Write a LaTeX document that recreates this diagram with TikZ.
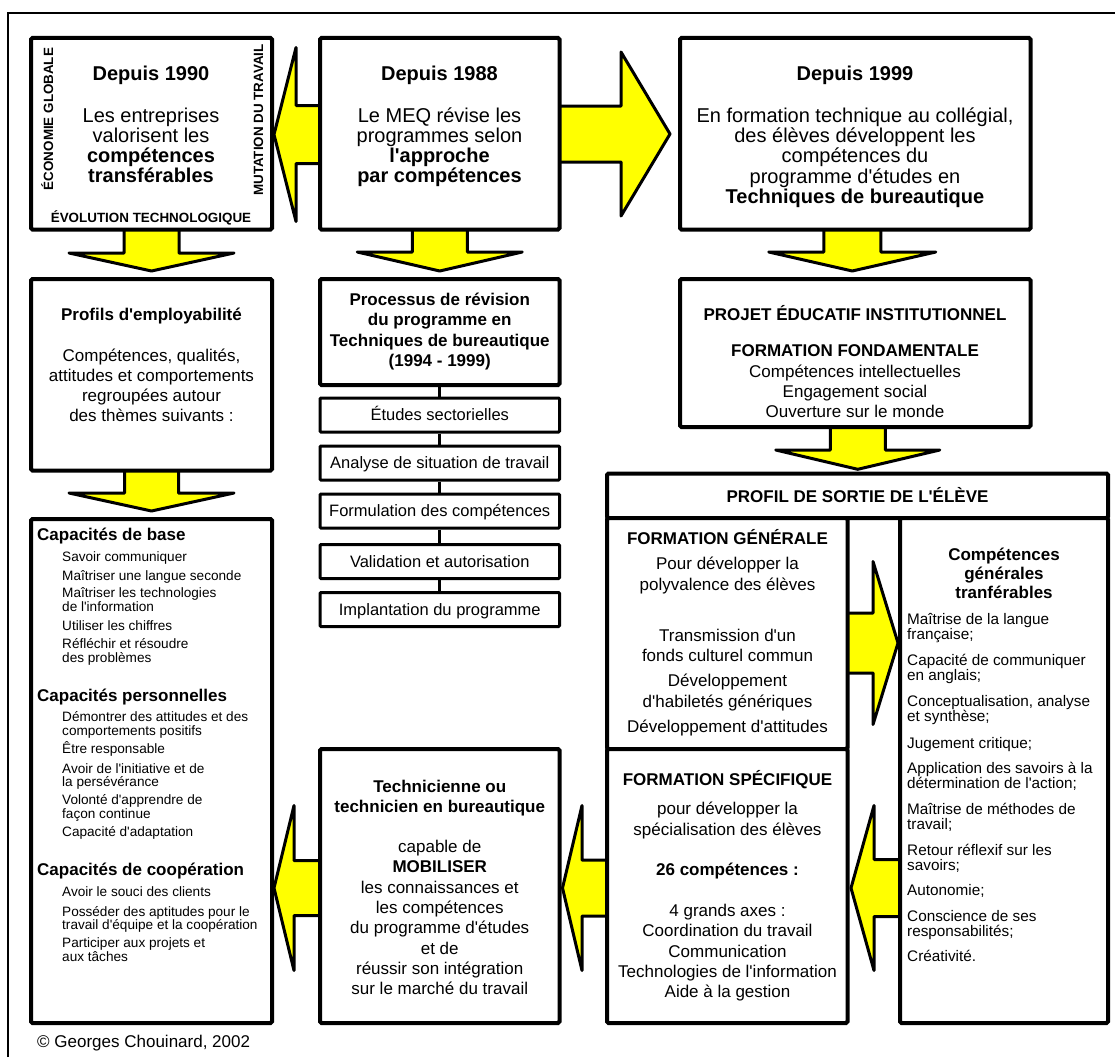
\documentclass[tikz,border=0pt]{standalone}
\usepackage{fontspec}
\setmainfont{Liberation Sans}[Ligatures=TeXOff]
\usetikzlibrary{calc,backgrounds}
\definecolor{arrowyellow}{HTML}{FFFF00}

\tikzset{
  mainbox/.style={draw, line width=4pt, fill=white, rounded corners=1.5pt, inner sep=0pt},
  stepbox/.style={draw, line width=3pt, fill=white, rounded corners=1pt, inner sep=0pt,
    minimum width=239.5pt, minimum height=34pt, text height=11.5pt, text depth=0pt,
    font=\fontsize{16.5}{16.5}\selectfont},
  blockarrow/.style={draw, fill=arrowyellow, line width=3pt, line join=round},
  stepline/.style={line width=3pt},
  frameline/.style={line width=2pt},
  t20/.style={anchor=base, inner sep=0pt, font=\fontsize{20}{20}\selectfont},
  t17/.style={anchor=base, inner sep=0pt, font=\fontsize{17}{17}\selectfont},
  side/.style={anchor=base, inner sep=0pt, font=\fontsize{13.4}{13.4}\selectfont\bfseries},
  head17/.style={anchor=base west, inner sep=0pt, font=\fontsize{17}{17}\selectfont\bfseries},
  item/.style={anchor=base west, inner sep=0pt, font=\fontsize{13.6}{13.6}\selectfont},
  citem/.style={anchor=base west, inner sep=0pt, font=\fontsize{15.3}{15.3}\selectfont},
}

% box from border-centre coordinates: style, name, x1, y1, x2, y2 (y counted downwards)
\newcommand\panelbox[6]{%
  \node[#1, minimum width={#5-#3}, minimum height={#6-#4}] (#2) at ({(#3+#5)/2},{-(#4+#6)/2}) {};}

% centred lines: name, x, first baseline, leading, style, list of lines
\newcommand\linestack[6]{%
  \foreach \tx [count=\i from 0] in {#6} {\node[#5] (#1-\i) at (#2,{-(#3+\i*#4)}) {\tx};}}

% block arrow going down: from, to, axis offset, shaft half width, head half width, head depth, gap
\newcommand\blockdown[7]{%
  \draw[blockarrow] let \p1=(#1.center), \p2=(#2.north) in
    (\x1+#3pt-#4pt,\y1) -- (\x1+#3pt-#4pt,\y2+#7pt+#6pt) -- (\x1+#3pt-#5pt,\y2+#7pt+#6pt)
    -- (\x1+#3pt,\y2+#7pt) -- (\x1+#3pt+#5pt,\y2+#7pt+#6pt) -- (\x1+#3pt+#4pt,\y2+#7pt+#6pt)
    -- (\x1+#3pt+#4pt,\y1) -- cycle;}

% block arrow going left: from, to, axis y, shaft half height, head half height, head length, gap
\newcommand\blockleft[7]{%
  \draw[blockarrow] let \p1=(#1.center), \p2=(#2.east) in
    (\x1,#3pt+#4pt) -- (\x2+#7pt+#6pt,#3pt+#4pt) -- (\x2+#7pt+#6pt,#3pt+#5pt) -- (\x2+#7pt,#3pt)
    -- (\x2+#7pt+#6pt,#3pt-#5pt) -- (\x2+#7pt+#6pt,#3pt-#4pt) -- (\x1,#3pt-#4pt) -- cycle;}

% block arrow going right: from, to, axis y, shaft half height, head half height, head length, gap
\newcommand\blockright[7]{%
  \draw[blockarrow] let \p1=(#1.center), \p2=(#2.west) in
    (\x1,#3pt+#4pt) -- (\x2-#7pt-#6pt,#3pt+#4pt) -- (\x2-#7pt-#6pt,#3pt+#5pt) -- (\x2-#7pt,#3pt)
    -- (\x2-#7pt-#6pt,#3pt-#5pt) -- (\x2-#7pt-#6pt,#3pt-#4pt) -- (\x1,#3pt-#4pt) -- cycle;}

\begin{document}
\begin{tikzpicture}[x=1pt,y=1pt]
\useasboundingbox (0,0) rectangle (1115,-1057);

% ---------- boxes ----------
\panelbox{mainbox}{b1}{31}{38}{272}{229.5}
\panelbox{mainbox}{b2}{320}{38}{559.5}{229.5}
\panelbox{mainbox}{b3}{680}{38}{1030.5}{229.5}
\panelbox{mainbox}{pb}{31}{279}{272}{470.5}
\panelbox{mainbox}{prb}{320}{279}{559.5}{385}
\panelbox{mainbox}{cb}{31}{519}{272}{1023}
\panelbox{mainbox}{tb}{320}{749}{559.5}{1023}
\panelbox{mainbox}{pjb}{680}{279}{1030.5}{427}
\panelbox{mainbox}{hdr}{607}{473.5}{1108}{518}
\panelbox{mainbox}{fg}{607}{518}{847.5}{749}
\panelbox{mainbox}{fs}{607}{749}{847.5}{1023}
\panelbox{mainbox}{comp}{900}{518}{1108}{1023}

% ---------- revision steps ----------
\node[stepbox] (s1) at (439.75,-415) {Études sectorielles};
\node[stepbox] (s2) at (439.75,-463) {Analyse de situation de travail};
\node[stepbox] (s3) at (439.75,-511) {Formulation des compétences};
\node[stepbox] (s4) at (439.75,-561.5) {Validation et autorisation};
\node[stepbox] (s5) at (439.75,-609.5) {Implantation du programme};
\draw[stepline] (prb) -- (s1);
\draw[stepline] (s1) -- (s2);
\draw[stepline] (s2) -- (s3);
\draw[stepline] (s3) -- (s4);
\draw[stepline] (s4) -- (s5);

% ---------- frame ----------
\draw[frameline] (7.8,-1057) -- (7.8,-13) -- (1115,-13);

% ---------- arrows behind the boxes ----------
\begin{pgfonlayer}{background}
  \fill[white] (0,0) rectangle (1115,-1057);
  \blockleft{b2}{b1}{-134.5}{29}{87}{22}{0}
  \blockright{b2}{b3}{-134}{28}{82}{49}{8}
  \blockdown{b1}{pb}{0}{27.5}{82.5}{18}{6}
  \blockdown{b2}{prb}{0}{27.5}{82.5}{19}{6}
  \blockdown{b3}{pjb}{-3}{28.5}{83.5}{19}{6}
  \blockdown{pb}{cb}{0}{27}{82.5}{18}{6}
  \blockdown{pjb}{hdr}{2.5}{27.5}{82}{19.3}{2.2}
  \blockright{fg}{comp}{-643}{30}{81.5}{25}{0}
  \blockleft{comp}{fs}{-888}{28.5}{82.5}{23}{1.5}
  \blockleft{fs}{tb}{-888}{28}{82.5}{19.5}{1}
  \blockleft{tb}{cb}{-888}{27.5}{82.5}{20}{0}
\end{pgfonlayer}

% ---------- Depuis 1990 ----------
\node[t20] (b1-title) at (151,-81) {\bfseries Depuis 1990};
\linestack{b1l}{151}{122}{20.3}{t20}{Les entreprises, valorisent les, \textbf{compétences}, \textbf{transférables}}
\node[side, rotate=90] (b1-left) at (53,-119) {ÉCONOMIE GLOBALE};
\node[side, rotate=90] (b1-right) at (263,-120) {MUTATION DU TRAVAIL};
\node[side] (b1-bottom) at (151,-222) {ÉVOLUTION TECHNOLOGIQUE};

% ---------- Depuis 1988 ----------
\node[t20] (b2-title) at (439.5,-81) {\bfseries Depuis 1988};
\linestack{b2l}{439.5}{122}{20.3}{t20}{Le MEQ révise les, programmes selon, \textbf{l'approche}, \textbf{par compétences}}

% ---------- Depuis 1999 ----------
\node[t20] (b3-title) at (855,-81) {\bfseries Depuis 1999};
\linestack{b3l}{855}{122}{20.4}{t20}{{En formation technique au collégial,}, des élèves développent les, compétences du, programme d'études en, \textbf{Techniques de bureautique}}

% ---------- Profils d'employabilite ----------
\node[t17] (pb-title) at (151.5,-320) {\bfseries Profils d'employabilité};
\linestack{pbl}{151.5}{361.7}{20}{t17}{{Compétences, qualités,}, attitudes et comportements, regroupées autour, des thèmes suivants :}

% ---------- Processus de revision ----------
\linestack{prbl}{439.75}{305}{20.5}{t17}{\textbf{Processus de révision}, \textbf{du programme en}, \textbf{Techniques de bureautique}, \textbf{(1994 - 1999)}}

% ---------- Capacites ----------
\node[head17] (cb-h1) at (37,-540) {Capacités de base};
\foreach \by/\tx [count=\i] in {561/Savoir communiquer, 580/Maîtriser une langue seconde, 597.5/Maîtriser les technologies, 611/de l'information, 630/Utiliser les chiffres, 648.5/Réfléchir et résoudre, 662/des problèmes}
  \node[item] (cb-a\i) at (62,-\by) {\tx};
\node[head17] (cb-h2) at (37,-701.7) {Capacités personnelles};
\foreach \by/\tx [count=\i] in {721.5/Démontrer des attitudes et des, 735/comportements positifs, 753.5/Être responsable, 773/Avoir de l'initiative et de, 786.5/la persévérance, 804.5/Volonté d'apprendre de, 818/façon continue, 836.5/Capacité d'adaptation}
  \node[item] (cb-b\i) at (62,-\by) {\tx};
\node[head17] (cb-h3) at (37,-875) {Capacités de coopération};
\foreach \by/\tx [count=\i] in {896.5/Avoir le souci des clients, 916/Posséder des aptitudes pour le, 929.5/travail d'équipe et la coopération, 947.5/Participer aux projets et, 961/aux tâches}
  \node[item] (cb-c\i) at (62,-\by) {\tx};

% ---------- Technicienne ----------
\linestack{tbh}{439.75}{792}{20.3}{t17}{\textbf{Technicienne ou}, \textbf{technicien en bureautique}}
\linestack{tbl}{439.75}{852.5}{20.3}{t17}{capable de, \textbf{MOBILISER}, les connaissances et, les compétences, du programme d'études, et de, réussir son intégration, sur le marché du travail}

% ---------- Projet educatif ----------
\linestack{pjh}{855}{320}{36}{t17}{\textbf{PROJET ÉDUCATIF INSTITUTIONNEL}, \textbf{FORMATION FONDAMENTALE}}
\linestack{pjl}{855}{377.5}{20}{t17}{Compétences intellectuelles, Engagement social, Ouverture sur le monde}

% ---------- Profil de sortie ----------
\node[t17] (hdr-t) at (857.5,-502.5) {\bfseries PROFIL DE SORTIE DE L'ÉLÈVE};

\node[t17] (fg-h) at (727.5,-544) {\bfseries FORMATION GÉNÉRALE};
\linestack{fga}{727.5}{569}{21}{t17}{Pour développer la, polyvalence des élèves}
\linestack{fgb}{727.5}{641}{20.7}{t17}{Transmission d'un, fonds culturel commun}
\linestack{fgc}{727.5}{686.7}{20.6}{t17}{Développement, d'habiletés génériques}
\node[t17] (fg-d) at (727.5,-732.3) {Développement d'attitudes};

\node[t17] (fs-h) at (727.5,-785) {\bfseries FORMATION SPÉCIFIQUE};
\linestack{fsa}{727.5}{814.3}{20.7}{t17}{pour développer la, spécialisation des élèves}
\node[t17] (fs-n) at (727.5,-875) {\bfseries 26 compétences :};
\linestack{fsb}{727.5}{916.7}{20.2}{t17}{4 grands axes :, Coordination du travail, Communication, Technologies de l'information, Aide à la gestion}

\linestack{cph}{1004}{560}{19.2}{t17}{\textbf{Compétences}, \textbf{générales}, \textbf{tranférables}}
\foreach \by/\tx [count=\i] in {624.6/Maîtrise de la langue, 639.6/française;, 665.6/Capacité de communiquer, 680.6/en anglais;, 706.3/{Conceptualisation, analyse}, 721.3/et synthèse;, 748.6/Jugement critique;, 773.6/Application des savoirs à la, 788.6/détermination de l'action;, 814.6/Maîtrise de méthodes de, 829.6/travail;, 855.3/Retour réflexif sur les, 870.3/savoirs;, 895.3/Autonomie;, 921.3/Conscience de ses, 936.3/responsabilités;, 961.3/Créativité.}
  \node[citem] (cp-\i) at (907,-\by) {\tx};

% ---------- credit ----------
\node[anchor=base west, inner sep=0pt, font=\fontsize{17}{17}\selectfont] (credit) at (37,-1047) {© Georges Chouinard, 2002};
\end{tikzpicture}
\end{document}
